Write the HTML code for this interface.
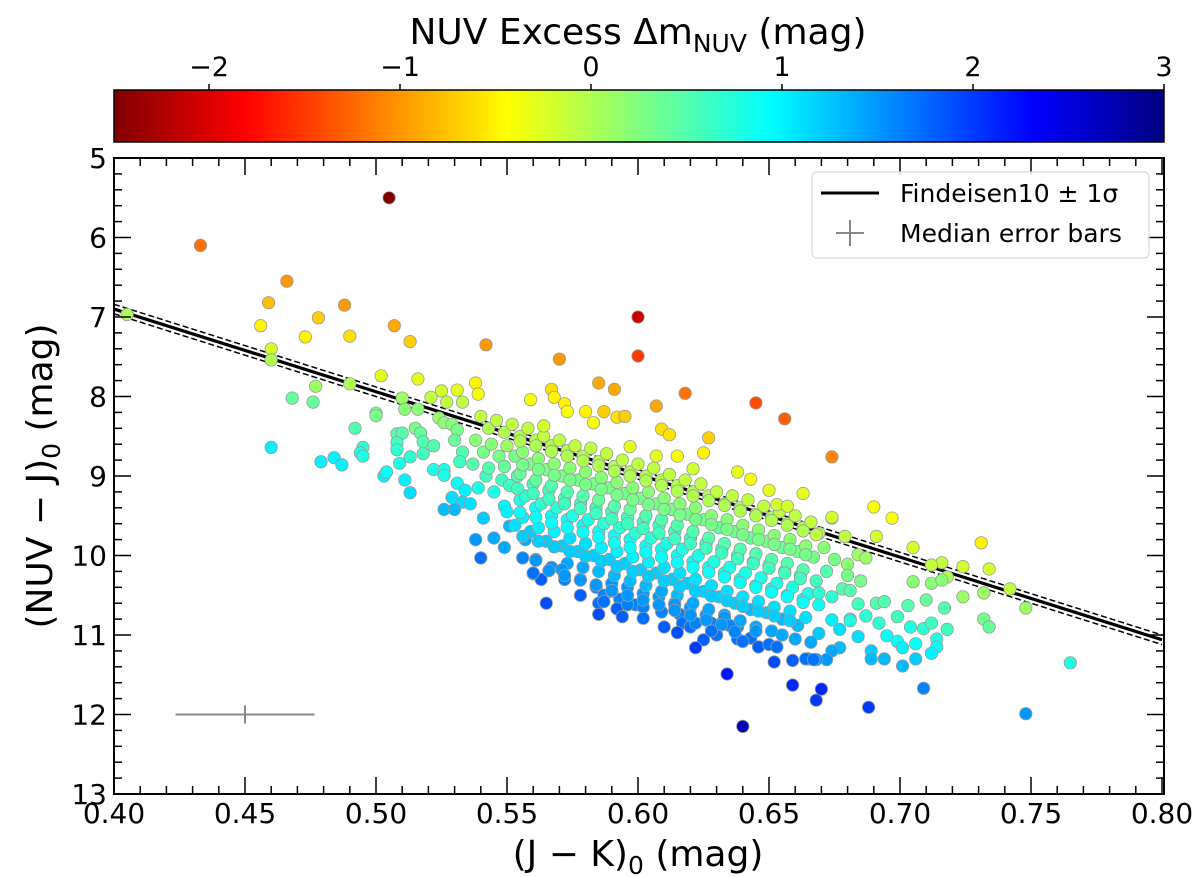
<!DOCTYPE html>
<html><head><meta charset="utf-8"><style>
html,body{margin:0;padding:0;background:#fff;}
svg{display:block;font-family:"DejaVu Sans","Liberation Sans",sans-serif;}
</style></head><body>
<svg id="chart" width="1200" height="877" viewBox="0 0 1200 877" xmlns="http://www.w3.org/2000/svg">
<defs>
<linearGradient id="cbgrad" x1="0" y1="0" x2="1" y2="0"></linearGradient>
<clipPath id="plotclip"><rect x="114" y="158" width="1050" height="636"/></clipPath>
</defs>
<text x="638" y="44" font-size="36" text-anchor="middle">NUV Excess Δm<tspan font-size="25" dy="8">NUV</tspan><tspan dy="-8"> (mag)</tspan></text>
<g id="cbticks"></g>
<rect x="114" y="90" width="1050" height="52" fill="url(#cbgrad)" stroke="#000" stroke-width="1.5"/>
<g id="plot">
<rect x="114" y="158" width="1050" height="636" fill="#fff"/>
<g id="fitlines" clip-path="url(#plotclip)"></g>
<g id="points" clip-path="url(#plotclip)"></g>
<g id="errbar"></g>
<g id="axes"></g>
<rect x="114" y="158" width="1050" height="636" fill="none" stroke="#000" stroke-width="2"/>
</g>
<g>
<rect x="812" y="172" width="337" height="86" rx="5" fill="#fff" fill-opacity="0.85" stroke="#d8d8d8" stroke-width="1.2"/>
<line x1="821" y1="193" x2="879" y2="193" stroke="#000" stroke-width="3"/>
<text x="900" y="202" font-size="25">Findeisen10 ± 1σ</text>
<line x1="836" y1="233" x2="864" y2="233" stroke="#888" stroke-width="2"/>
<line x1="850" y1="220" x2="850" y2="246" stroke="#888" stroke-width="2"/>
<text x="900" y="242" font-size="25">Median error bars</text>
</g>
<text x="638" y="866" font-size="36" text-anchor="middle">(J − K)<tspan font-size="25" dy="8">0</tspan><tspan dy="-8"> (mag)</tspan></text>
<text transform="translate(52,476) rotate(-90)" font-size="36" text-anchor="middle">(NUV − J)<tspan font-size="25" dy="8">0</tspan><tspan dy="-8"> (mag)</tspan></text>
</svg>
<script>
const xTicks = ["0.40","0.45","0.50","0.55","0.60","0.65","0.70","0.75","0.80"];
const yTicks = ["5","6","7","8","9","10","11","12","13"];
const cbTicks = ["−2","−1","0","1","2","3"];
const cbTickVals = [-2,-1,0,1,2,3];
const fitLine = [[0.40, 6.90],[0.80, 11.06]];
const fitSigma = [0.06];
const errBar = [0.45, 12.0, 0.0265, 0.115];

const xs = [
0.405,0.433,0.466,0.459,0.456,0.478,0.473,0.488,0.490,0.505,0.507,0.513,0.542,0.460,0.460,0.502,0.516,0.477,0.490,0.468,0.476,0.510,0.511,0.516,0.521,0.525,0.531,0.527,0.533,0.538,0.539,0.500,0.500,0.460,0.492,0.479,0.484,0.487,0.495,0.494,0.495,0.503,0.504,0.511,0.513,0.508,0.510,0.508,0.508,0.509,0.513,0.515,0.517,0.518,0.518,0.522,0.524,0.526,0.529,0.531,0.530,0.533,0.532,0.522,0.526,0.526,0.531,0.529,0.534,0.533,0.536,0.526,0.530,0.541,0.551,0.538,0.545,0.540,0.556,0.560,0.563,0.557,0.559,
0.540,0.543,0.538,0.541,0.537,0.542,0.539,
0.546,0.549,0.544,0.547,0.543,0.548,0.545,0.549,
0.552,0.555,0.550,0.553,0.549,0.554,0.551,0.555,0.550,0.553,0.549,
0.558,0.561,0.556,0.559,0.555,0.560,0.557,0.561,0.556,0.559,
0.564,0.567,0.562,0.565,0.561,0.566,0.563,0.567,0.562,0.565,0.561,
0.570,0.573,0.568,0.571,0.567,0.572,0.569,0.573,0.568,0.571,0.567,
0.576,0.579,0.574,0.577,0.573,0.578,0.575,0.579,0.574,0.577,0.573,0.578,
0.582,0.585,0.580,0.583,0.579,0.584,0.581,0.585,0.580,0.583,0.579,0.584,
0.588,0.591,0.586,0.589,0.585,0.590,0.587,0.591,0.586,0.589,0.585,0.590,0.587,
0.594,0.597,0.592,0.595,0.591,0.596,0.593,0.597,0.592,0.595,0.591,0.596,0.593,
0.600,0.603,0.598,0.601,0.597,0.602,0.599,0.603,0.598,0.601,0.597,0.602,0.599,
0.606,0.609,0.604,0.607,0.603,0.608,0.605,0.609,0.604,0.607,0.603,0.608,
0.612,0.615,0.610,0.613,0.609,0.614,0.611,0.615,0.610,0.613,0.609,0.614,
0.618,0.621,0.616,0.619,0.615,0.620,0.617,0.621,0.616,0.619,0.615,0.620,
0.624,0.627,0.622,0.625,0.621,0.626,0.623,0.627,0.622,0.625,0.621,0.626,
0.630,0.633,0.628,0.631,0.627,0.632,0.629,0.633,0.628,0.631,0.627,0.632,
0.636,0.639,0.634,0.637,0.633,0.638,0.635,0.639,0.634,0.637,0.633,0.638,
0.642,0.645,0.640,0.643,0.639,0.644,0.641,0.645,0.640,0.643,0.639,
0.648,0.651,0.646,0.649,0.645,0.650,0.647,0.651,0.646,0.649,0.645,
0.654,0.657,0.652,0.655,0.651,0.656,0.653,0.657,0.652,0.655,0.651,
0.660,0.663,0.658,0.661,0.657,0.662,0.659,0.663,0.658,0.661,
0.666,0.669,0.664,0.667,0.663,0.668,0.665,0.669,0.664,
0.690,0.697,0.674,0.668,0.679,0.691,0.705,0.731,0.716,0.712,0.724,0.734,0.718,0.742,0.732,0.724,0.748,0.732,0.734,0.765,0.748,0.688,0.709,0.668,0.705,0.712,0.716,0.684,0.687,0.680,0.680,0.685,0.678,0.681,0.691,0.694,0.684,0.687,0.681,0.681,0.692,0.699,0.703,0.710,0.717,0.704,0.709,0.712,0.718,0.695,0.699,0.701,0.706,0.714,0.714,0.712,0.701,0.706,0.694,0.689,0.689,0.684,0.677,0.677,0.674,0.672,0.668,0.665,0.674,0.669,0.666,0.674,0.669,0.672,0.675,0.671,
0.570,0.600,0.585,0.591,0.618,0.645,0.656,0.674,0.600,0.607,0.567,0.568,0.572,0.573,0.580,0.583,0.587,0.592,0.595,0.609,0.612,0.627,0.625,0.615,0.607,0.597,0.643,0.650,0.674,0.653,0.657,0.559,0.564,0.621,0.638,0.663,
0.565,0.585,0.585,0.592,0.594,0.596,0.602,0.602,0.609,0.614,0.616,0.617,0.615,0.620,0.625,0.622,0.634,0.628,0.633,0.635,0.638,0.643,0.640,0.646,0.650,0.653,0.652,0.659,0.664,0.667,0.659,0.670,0.640,0.660,0.655,0.645,0.630,0.610,0.590,0.578,0.572,0.561,0.560,0.571,0.587,0.622,0.628,0.637
];
const ys = [
6.97,6.10,6.55,6.82,7.11,7.01,7.25,6.85,7.24,5.50,7.11,7.31,7.35,7.40,7.54,7.74,7.78,7.87,7.84,8.02,8.07,8.02,8.16,8.16,8.01,7.93,7.92,8.07,8.07,7.83,7.97,8.21,8.24,8.64,8.40,8.82,8.77,8.86,8.64,8.71,8.75,9.00,8.95,9.05,9.21,8.47,8.46,8.58,8.67,8.84,8.76,8.40,8.46,8.57,8.72,8.62,8.27,8.33,8.35,8.42,8.55,8.70,8.82,8.92,8.92,8.99,9.09,9.27,9.18,9.33,9.35,9.42,9.42,9.53,9.63,9.80,9.78,10.03,10.03,10.23,10.30,9.80,9.70,
8.25,8.40,8.55,8.70,8.85,9.00,9.15,
8.30,8.45,8.60,8.75,8.90,9.05,9.20,9.38,
8.35,8.50,8.62,8.75,8.88,9.00,9.12,9.30,9.45,9.62,9.90,
8.40,8.55,8.70,8.85,8.97,9.10,9.25,9.40,9.52,9.70,
8.50,8.62,8.78,8.92,9.05,9.18,9.35,9.50,9.65,9.82,10.05,
8.55,8.68,8.85,9.00,9.12,9.28,9.40,9.55,9.70,9.88,10.15,
8.62,8.75,8.90,9.05,9.20,9.35,9.50,9.62,9.78,9.95,10.10,10.30,
8.65,8.82,8.95,9.10,9.25,9.40,9.55,9.70,9.85,10.00,10.15,10.40,
8.72,8.88,9.02,9.15,9.30,9.45,9.60,9.75,9.90,10.05,10.20,10.35,10.50,
8.80,8.95,9.08,9.22,9.38,9.52,9.65,9.80,9.95,10.10,10.25,10.40,10.55,
8.85,9.00,9.15,9.28,9.42,9.58,9.72,9.88,10.02,10.18,10.32,10.48,10.62,
8.90,9.05,9.20,9.35,9.50,9.62,9.78,9.92,10.08,10.22,10.38,10.52,
8.98,9.12,9.28,9.42,9.55,9.70,9.85,10.00,10.15,10.30,10.45,10.60,
9.05,9.20,9.35,9.48,9.62,9.78,9.92,10.08,10.22,10.35,10.50,10.65,
9.10,9.25,9.40,9.55,9.70,9.85,10.00,10.15,10.30,10.45,10.60,10.75,
9.20,9.35,9.50,9.65,9.78,9.92,10.08,10.22,10.38,10.52,10.68,10.85,
9.25,9.40,9.55,9.70,9.85,10.00,10.15,10.30,10.45,10.60,10.75,10.90,
9.30,9.48,9.62,9.78,9.92,10.08,10.22,10.38,10.52,10.68,10.82,
9.38,9.52,9.68,9.82,9.98,10.12,10.28,10.42,10.58,10.72,10.90,
9.45,9.60,9.75,9.90,10.05,10.20,10.35,10.50,10.65,10.80,10.95,
9.50,9.65,9.80,9.95,10.10,10.25,10.40,10.55,10.70,10.88,
9.58,9.72,9.88,10.02,10.18,10.32,10.48,10.62,10.78,
9.39,9.53,9.53,9.74,9.76,9.76,9.90,9.84,10.09,10.12,10.14,10.17,10.27,10.42,10.47,10.52,10.66,10.80,10.90,11.35,11.99,11.91,11.67,11.82,10.33,10.35,10.31,9.99,10.03,10.11,10.25,10.32,10.42,10.44,10.60,10.58,10.61,10.76,10.80,10.82,10.85,10.77,10.63,10.56,10.66,10.90,10.92,10.85,10.93,11.01,11.08,11.16,11.11,11.05,11.15,11.23,11.39,11.30,11.30,11.20,11.30,11.02,10.93,11.16,11.20,11.31,11.31,11.30,10.81,10.98,11.09,10.52,10.47,10.20,10.05,9.90,
7.53,7.49,7.83,7.91,7.96,8.08,8.28,8.76,7.00,8.12,7.91,8.01,8.09,8.19,8.19,8.33,8.19,8.26,8.25,8.41,8.48,8.52,8.71,8.75,8.75,8.63,9.04,9.18,9.52,9.36,9.38,8.04,8.37,8.91,8.95,9.22,
10.60,10.60,10.74,10.67,10.77,10.62,10.65,10.79,10.71,10.62,10.74,10.85,10.97,10.90,11.06,11.16,11.49,10.85,10.78,10.88,11.05,11.04,11.08,11.15,11.12,11.15,11.34,11.32,11.30,11.31,11.63,11.68,12.15,11.05,11.00,10.95,11.00,10.90,10.45,10.50,10.30,10.06,10.22,10.18,10.58,10.85,10.95,10.96
];
const dms = [
0.0,-1.2,-1.0,-0.8,-0.5,-0.7,-0.5,-1.0,-0.6,-2.5,-0.9,-0.7,-1.0,-0.2,0.0,-0.3,-0.3,0.1,0.0,0.4,0.4,0.1,0.2,0.2,-0.1,-0.2,-0.3,-0.1,-0.1,-0.5,-0.4,0.3,0.3,1.0,0.5,1.0,1.0,1.0,0.7,0.8,0.8,1.0,0.9,1.0,1.1,0.5,0.5,0.6,0.7,0.8,0.7,0.3,0.4,0.5,0.6,0.5,0.1,0.2,0.2,0.3,0.4,0.5,0.6,0.8,0.8,0.8,0.9,1.1,1.0,1.1,1.1,1.3,1.3,1.2,1.3,1.5,1.4,1.7,1.6,1.7,1.8,1.4,1.3,
-0.1,0.0,0.2,0.3,0.5,0.6,0.8,
-0.1,0.0,0.2,0.3,0.5,0.6,0.8,1.0,
-0.1,0.0,0.1,0.3,0.4,0.5,0.6,0.8,1.0,1.1,1.4,
-0.1,0.0,0.2,0.3,0.4,0.6,0.7,0.9,1.0,1.2,
-0.1,0.0,0.2,0.3,0.4,0.6,0.7,0.9,1.0,1.2,1.4,
-0.1,0.0,0.2,0.3,0.5,0.6,0.7,0.9,1.0,1.2,1.5,
-0.1,0.0,0.2,0.3,0.5,0.6,0.8,0.9,1.1,1.2,1.4,1.6,
-0.1,0.0,0.2,0.3,0.5,0.6,0.8,0.9,1.1,1.2,1.4,1.6,
-0.1,0.0,0.2,0.3,0.4,0.6,0.7,0.9,1.0,1.2,1.3,1.5,1.6,
-0.1,0.0,0.2,0.3,0.5,0.6,0.7,0.9,1.0,1.2,1.3,1.5,1.6,
-0.1,0.0,0.2,0.3,0.4,0.6,0.7,0.9,1.0,1.2,1.3,1.5,1.6,
-0.1,0.0,0.2,0.3,0.5,0.6,0.7,0.9,1.0,1.2,1.3,1.5,
-0.1,0.0,0.2,0.3,0.5,0.6,0.8,0.9,1.1,1.2,1.4,1.5,
-0.1,0.0,0.2,0.3,0.5,0.6,0.8,0.9,1.1,1.2,1.3,1.5,
-0.1,0.0,0.2,0.3,0.5,0.6,0.8,0.9,1.1,1.2,1.4,1.5,
-0.1,0.1,0.2,0.4,0.5,0.6,0.8,0.9,1.1,1.2,1.4,1.6,
-0.1,0.0,0.2,0.3,0.5,0.6,0.8,0.9,1.1,1.2,1.4,1.5,
-0.1,0.1,0.2,0.4,0.5,0.7,0.8,1.0,1.1,1.3,1.4,
-0.1,0.0,0.2,0.3,0.5,0.6,0.8,0.9,1.1,1.2,1.4,
-0.1,0.1,0.2,0.4,0.5,0.7,0.8,1.0,1.1,1.3,1.4,
-0.1,0.0,0.2,0.3,0.5,0.6,0.8,0.9,1.1,1.3,
-0.1,0.0,0.2,0.3,0.5,0.6,0.8,0.9,1.1,
-0.4,-0.4,-0.2,-0.1,-0.1,-0.2,-0.2,-0.5,-0.1,-0.1,-0.2,-0.2,0.0,-0.1,0.1,0.1,0.1,0.3,0.4,0.8,1.5,2.0,1.6,2.0,0.2,0.2,0.2,0.1,0.1,0.2,0.3,0.3,0.5,0.5,0.5,0.5,0.6,0.7,0.8,0.8,0.7,0.6,0.5,0.4,0.5,0.8,0.7,0.6,0.6,0.9,0.9,1.0,0.9,0.8,0.9,1.0,1.3,1.2,1.3,1.2,1.3,1.1,1.1,1.3,1.4,1.5,1.5,1.6,1.0,1.2,1.4,0.7,0.7,0.5,0.3,0.2,
-1.0,-1.5,-0.9,-0.9,-1.2,-1.4,-1.3,-1.1,-2.1,-0.9,-0.6,-0.5,-0.5,-0.4,-0.5,-0.4,-0.7,-0.6,-0.7,-0.6,-0.6,-0.7,-0.5,-0.4,-0.3,-0.3,-0.4,-0.3,-0.2,-0.2,-0.2,-0.4,-0.2,-0.2,-0.3,-0.3,
1.9,1.7,1.9,1.8,1.8,1.6,1.6,1.7,1.6,1.5,1.6,1.7,1.9,1.7,1.8,2.0,2.2,1.6,1.5,1.6,1.7,1.7,1.7,1.8,1.7,1.7,1.9,1.8,1.7,1.7,2.1,2.1,2.7,1.4,1.4,1.5,1.7,1.8,1.6,1.8,1.6,1.5,1.7,1.5,1.7,1.6,1.7,1.6
];
const xs2 = [
0.555,0.556,0.554,0.555,0.556,
0.561,0.562,0.560,0.561,0.562,
0.567,0.568,0.566,0.567,0.568,0.566,
0.573,0.574,0.572,0.573,0.574,0.572,
0.579,0.580,0.578,0.579,0.580,0.578,
0.585,0.586,0.584,0.585,0.586,0.584,
0.591,0.592,0.590,0.591,0.592,0.590,
0.597,0.598,0.596,0.597,0.598,0.596,
0.603,0.604,0.602,0.603,0.604,0.602,
0.609,0.610,0.608,0.609,0.610,0.608,
0.615,0.616,0.614,0.615,0.616,0.614,
0.621,0.622,0.620,0.621,0.622,0.620,
0.627,0.628,0.626,0.627,0.628,0.626,
0.633,0.634,0.632,0.633,0.634,0.632,
0.639,0.640,0.638,0.639,0.640,
0.645,0.646,0.644,0.645,0.646,
0.651,0.652,0.650,0.651,0.652,
0.657,0.658,0.656,0.657,0.658,
0.663,0.664,0.662,0.663
];
const ys2 = [
8.56,8.86,9.16,9.46,9.76,
8.62,8.92,9.22,9.52,9.82,
8.69,8.99,9.29,9.59,9.89,10.19,
8.75,9.05,9.35,9.65,9.95,10.25,
8.81,9.11,9.41,9.71,10.01,10.31,
8.87,9.17,9.47,9.77,10.07,10.37,
8.94,9.24,9.54,9.84,10.14,10.44,
9.00,9.30,9.60,9.90,10.20,10.50,
9.06,9.36,9.66,9.96,10.26,10.56,
9.12,9.42,9.72,10.02,10.32,10.62,
9.19,9.49,9.79,10.09,10.39,10.69,
9.25,9.55,9.85,10.15,10.45,10.75,
9.31,9.61,9.91,10.21,10.51,10.81,
9.37,9.67,9.97,10.27,10.57,10.87,
9.44,9.74,10.04,10.34,10.64,
9.50,9.80,10.10,10.40,10.70,
9.56,9.86,10.16,10.46,10.76,
9.62,9.92,10.22,10.52,10.82,
9.69,9.99,10.29,10.59
];
const dms2 = [
0.0,0.3,0.6,0.9,1.2,
0.0,0.3,0.6,0.9,1.2,
0.0,0.3,0.6,0.9,1.2,1.5,
0.0,0.3,0.6,0.9,1.2,1.5,
0.0,0.3,0.6,0.9,1.2,1.5,
0.0,0.3,0.6,0.9,1.2,1.5,
0.0,0.3,0.6,0.9,1.2,1.5,
0.0,0.3,0.6,0.9,1.2,1.5,
0.0,0.3,0.6,0.9,1.2,1.5,
0.0,0.3,0.6,0.9,1.2,1.5,
0.0,0.3,0.6,0.9,1.2,1.5,
0.0,0.3,0.6,0.9,1.2,1.5,
0.0,0.3,0.6,0.9,1.2,1.5,
0.0,0.3,0.6,0.9,1.2,1.5,
0.0,0.3,0.6,0.9,1.2,
0.0,0.3,0.6,0.9,1.2,
0.0,0.3,0.6,0.9,1.2,
0.0,0.3,0.6,0.9,1.2,
0.0,0.3,0.6,0.9
];

const NS = "http://www.w3.org/2000/svg";
const X = v => 114 + (v - 0.40) * 2620;
const Y = v => 158 + (v - 5) * 79.5;
const CB = v => 209 + (v + 2) * 191;
const VMIN = -2.5, VMAX = 3.0;
function jet(t){
  const c = a => Math.max(0, Math.min(1, a));
  return [c(1.5 - Math.abs(4*t - 3)), c(1.5 - Math.abs(4*t - 2)), c(1.5 - Math.abs(4*t - 1))];
}
function colorOf(v){
  const t = (VMAX - v) / (VMAX - VMIN);
  const [r,g,b] = jet(Math.max(0, Math.min(1, t)));
  return `rgb(${Math.round(r*255)},${Math.round(g*255)},${Math.round(b*255)})`;
}
function mk(tag, attrs, parent){
  const e = document.createElementNS(NS, tag);
  for (const k in attrs) e.setAttribute(k, attrs[k]);
  parent.appendChild(e);
  return e;
}
const grad = document.getElementById('cbgrad');
for (let i = 0; i <= 40; i++){
  const v = VMIN + (VMAX - VMIN) * i / 40;
  mk('stop', {offset: (i/40*100)+'%', 'stop-color': colorOf(v)}, grad);
}
const cbt = document.getElementById('cbticks');
cbTickVals.forEach((v, i) => {
  const x = CB(v);
  const tl = mk('line', {x1: x, y1: 84, x2: x, y2: 90, stroke: '#000', 'stroke-width': 1.5}, cbt);
  
  
  const t = mk('text', {x: x, y: 76, 'font-size': 27, 'text-anchor': 'middle'}, cbt);
  t.textContent = cbTicks[i];
  
  
});
const ax = document.getElementById('axes');
for (let i = 0; i <= 40; i++){
  const v = 0.40 + i * 0.01;
  const x = X(v);
  const major = i % 5 === 0;
  const L = major ? 17 : 8;
  mk('line', {x1: x, y1: 794, x2: x, y2: 794 - L, stroke: '#000', 'stroke-width': 1.5}, ax);
  mk('line', {x1: x, y1: 158, x2: x, y2: 158 + L, stroke: '#000', 'stroke-width': 1.5}, ax);
}
xTicks.forEach(s => {
  const t = mk('text', {x: X(parseFloat(s)), y: 823, 'font-size': 28, 'text-anchor': 'middle'}, ax);
  t.textContent = s;
  
  
});
for (let i = 0; i <= 40; i++){
  const v = 5 + i * 0.2;
  const y = Y(v);
  const major = i % 5 === 0;
  const L = major ? 17 : 8;
  mk('line', {x1: 114, y1: y, x2: 114 + L, y2: y, stroke: '#000', 'stroke-width': 1.5}, ax);
  mk('line', {x1: 1164, y1: y, x2: 1164 - L, y2: y, stroke: '#000', 'stroke-width': 1.5}, ax);
}
yTicks.forEach(s => {
  const t = mk('text', {x: 107, y: Y(parseFloat(s)) + 10, 'font-size': 28, 'text-anchor': 'end'}, ax);
  t.textContent = s;
  
  
});
const fl = document.getElementById('fitlines');
const [p0, p1] = fitLine;
const main = mk('line', {x1: X(p0[0]), y1: Y(p0[1]), x2: X(p1[0]), y2: Y(p1[1]), stroke: '#000', 'stroke-width': 3.2}, fl);


[-1, 1].forEach(s => {
  const d = mk('line', {x1: X(p0[0]), y1: Y(p0[1] + s*fitSigma[0]), x2: X(p1[0]), y2: Y(p1[1] + s*fitSigma[0]), stroke: '#000', 'stroke-width': 1.5, 'stroke-dasharray': '6,3'}, fl);
  
  
});
const pg = document.getElementById('points');
const allX = xs.concat(xs2), allY = ys.concat(ys2), allD = dms.concat(dms2);
for (let i = 0; i < allX.length; i++){
  const c = mk('circle', {cx: X(allX[i]).toFixed(1), cy: Y(allY[i]).toFixed(1), r: 6.2, fill: colorOf(allD[i]), stroke: '#9a9a9a', 'stroke-width': 0.8}, pg);
  
  
}
const eg = document.getElementById('errbar');
mk('line', {x1: X(errBar[0]-errBar[2]), y1: Y(errBar[1]), x2: X(errBar[0]+errBar[2]), y2: Y(errBar[1]), stroke: '#888', 'stroke-width': 2}, eg);
mk('line', {x1: X(errBar[0]), y1: Y(errBar[1]-errBar[3]), x2: X(errBar[0]), y2: Y(errBar[1]+errBar[3]), stroke: '#888', 'stroke-width': 2}, eg);
</script>
</body></html>
